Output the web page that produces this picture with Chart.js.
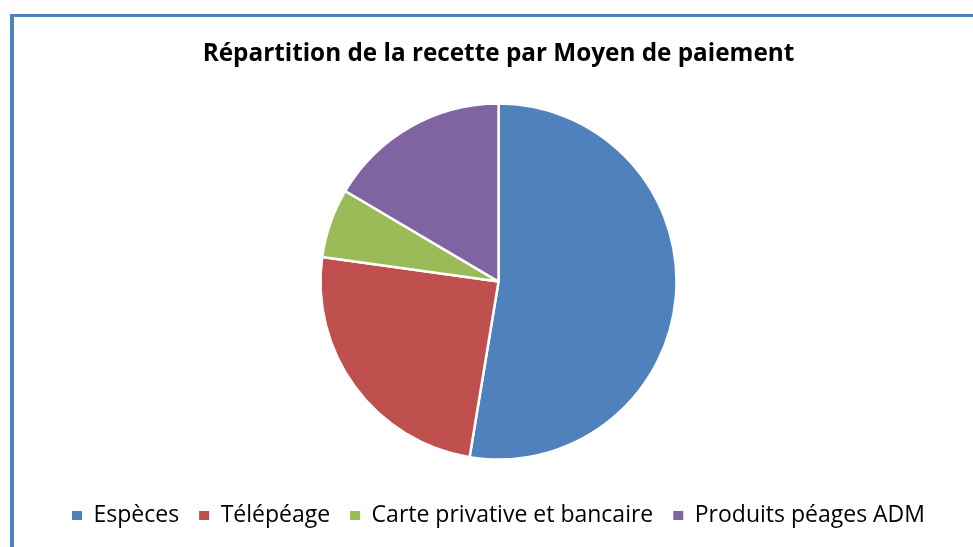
<!DOCTYPE html>
<html>
<head>
<meta charset="utf-8">
<script src="https://cdn.jsdelivr.net/npm/chart.js@4/dist/chart.umd.min.js"></script>
<style>
  html, body { margin:0; padding:0; background:#fff; }
  .page { position:relative; width:973px; height:547px; overflow:hidden; background:#fff; }
  .frame { position:absolute; left:10px; top:14px; width:1000px; height:600px;
           border-left:4px solid #4f81bd; border-top:3px solid #4f81bd; }
  .cw { position:absolute; left:0; top:0; width:973px; height:547px; }
</style>
</head>
<body>
<div class="page">
  <div class="frame"></div>
  <div class="cw"><canvas id="chPay"></canvas></div>
</div>
<script>
// Répartition de la recette (%)
const labels = ['Espèces', 'Télépéage', 'Carte privative et bancaire', 'Produits péages ADM'];
const values = [52.6, 24.6, 6.3, 16.5];
const colors = ['#4f81bd', '#c0504d', '#9bbb59', '#8064a2'];

const baseLabels = Chart.overrides.pie.plugins.legend.labels.generateLabels;

const cv = document.getElementById('chPay');
new Chart(cv, {
  type:'pie',
  data:{ labels:labels, datasets:[{ data:values, backgroundColor:colors,
    borderColor:'#fff', borderWidth:2.5, radius:178 }] },
  options:{ responsive:true, maintainAspectRatio:false, animation:false,
    layout:{ padding:{ left:24, right:0, top:0, bottom:10 } },
    plugins:{
      title:{ display:true, text:'Répartition de la recette par Moyen de paiement',
        color:'#000', font:{ family:'"Open Sans", sans-serif', size:24.3, weight:'bold' },
        padding:{ top:39, bottom:11 } },
      legend:{ position:'bottom',
        labels:{ boxWidth:10, boxHeight:9, padding:20, color:'#000',
          font:{ family:'"Open Sans", sans-serif', size:23 },
          generateLabels:c => baseLabels(c).map(l => ({ ...l, lineWidth:0 })) } },
      tooltip:{ enabled:false }
    } }
});
</script>
</body>
</html>
